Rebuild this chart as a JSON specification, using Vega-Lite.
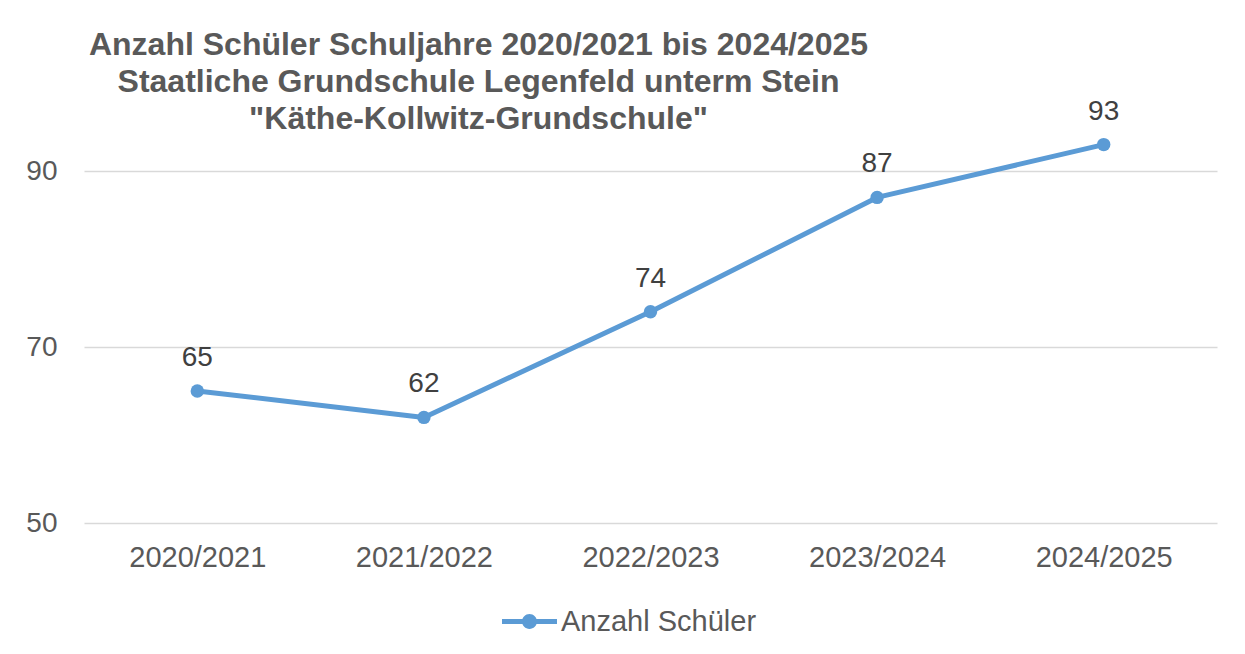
{
  "$schema": "https://vega.github.io/schema/vega-lite/v6.json",
  "width": 1133,
  "height": 440,
  "autosize": {"type": "none"},
  "padding": {"left": 84, "top": 83, "right": 28, "bottom": 131},
  "background": "#ffffff",
  "config": {
    "view": {"stroke": null},
    "font": "Liberation Sans"
  },
  "title": {
    "text": ["Anzahl Schüler Schuljahre 2020/2021 bis 2024/2025", "Staatliche Grundschule Legenfeld unterm Stein", "\"Käthe-Kollwitz-Grundschule\""],
    "anchor": "middle",
    "dx": -172,
    "offset": -53,
    "fontSize": 32,
    "fontWeight": "bold",
    "color": "#595959",
    "font": "Liberation Sans",
    "lineHeight": 37
  },
  "data": {
    "values": [
      {"jahr": "2020/2021", "anzahl": 65, "serie": "Anzahl Schüler"},
      {"jahr": "2021/2022", "anzahl": 62, "serie": "Anzahl Schüler"},
      {"jahr": "2022/2023", "anzahl": 74, "serie": "Anzahl Schüler"},
      {"jahr": "2023/2024", "anzahl": 87, "serie": "Anzahl Schüler"},
      {"jahr": "2024/2025", "anzahl": 93, "serie": "Anzahl Schüler"}
    ]
  },
  "encoding": {
    "x": {
      "field": "jahr",
      "type": "ordinal",
      "sort": null,
      "scale": {"type": "point", "padding": 0.5},
      "axis": {
        "title": null,
        "domain": false,
        "ticks": false,
        "labelAngle": 0,
        "labelFontSize": 29,
        "labelColor": "#595959",
        "labelPadding": 20,
        "grid": false
      }
    },
    "y": {
      "field": "anzahl",
      "type": "quantitative",
      "scale": {"domain": [50, 100], "nice": false, "zero": false},
      "axis": {
        "title": null,
        "values": [50, 70, 90],
        "domain": false,
        "ticks": false,
        "labelFontSize": 28,
        "labelColor": "#595959",
        "labelPadding": 27,
        "gridColor": "#D9D9D9",
        "gridWidth": 1.5
      }
    }
  },
  "layer": [
    {
      "mark": {"type": "line", "strokeWidth": 5, "strokeCap": "round", "strokeJoin": "round"},
      "encoding": {
        "color": {
          "field": "serie",
          "type": "nominal",
          "scale": {"domain": ["Anzahl Schüler"], "range": ["#5B9BD5"]},
          "legend": {
            "title": null,
            "orient": "none",
            "legendX": 418,
            "legendY": 511,
            "symbolType": "M-1,-0.09L1,-0.09L1,0.09L-1,0.09Z M-0.27,0A0.27,0.27 0 1,1 0.27,0A0.27,0.27 0 1,1 -0.27,0Z",
            "symbolSize": 3025,
            "labelFontSize": 29,
            "labelColor": "#595959",
            "labelOffset": 4,
            "labelLimit": 0,
            "padding": 0,
            "encode": {
              "symbols": {
                "update": {
                  "fill": {"value": "#5B9BD5"},
                  "stroke": {"value": "#5B9BD5"},
                  "strokeWidth": {"value": 0}
                }
              }
            }
          }
        }
      }
    },
    {
      "mark": {"type": "point", "filled": true, "size": 180, "opacity": 1, "color": "#5B9BD5"}
    },
    {
      "mark": {"type": "text", "dy": -25, "baseline": "alphabetic", "fontSize": 28, "color": "#404040"},
      "encoding": {"text": {"field": "anzahl", "type": "quantitative"}}
    }
  ]
}
